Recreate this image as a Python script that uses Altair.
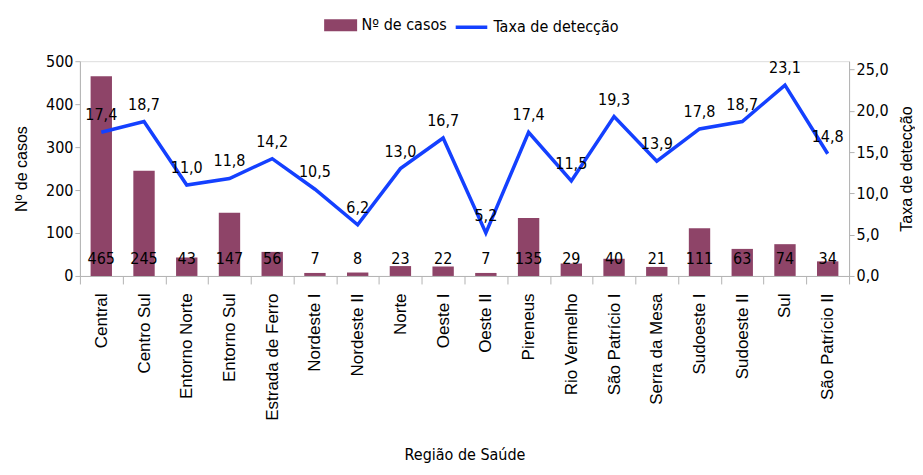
import altair as alt
import pandas as pd

regioes = ["Central", "Centro Sul", "Entorno Norte", "Entorno Sul", "Estrada de Ferro",
           "Nordeste I", "Nordeste II", "Norte", "Oeste I", "Oeste II", "Pireneus",
           "Rio Vermelho", "São Patrício I", "Serra da Mesa", "Sudoeste I", "Sudoeste II",
           "Sul", "São Patrício II"]
casos = [465, 245, 43, 147, 56, 7, 8, 23, 22, 7, 135, 29, 40, 21, 111, 63, 74, 34]
taxa = [17.4, 18.7, 11.0, 11.8, 14.2, 10.5, 6.2, 13.0, 16.7, 5.2, 17.4, 11.5, 19.3,
        13.9, 17.8, 18.7, 23.1, 14.8]
ticks_casos = [0, 100, 200, 300, 400, 500]
ticks_taxa = [0, 5, 10, 15, 20, 25]
serie_barra = "Nº de casos"
serie_linha = "Taxa de detecção"

df = pd.DataFrame({"regiao": regioes, "casos": casos, "taxa": taxa,
                   "s_barra": [serie_barra] * len(regioes),
                   "s_linha": [serie_linha] * len(regioes)})

NUM_FONT = "Liberation Sans Narrow, DejaVu Sans Condensed, Arial Narrow, sans-serif"
WIDE_FONT = "Liberation Sans, Arial, sans-serif"
BAR = "#8e4468"
BLUE = "#1440ff"
AX = "#b3b3b3"

x = alt.X("regiao:N", sort=regioes, title="Região de Saúde",
          scale=alt.Scale(paddingInner=0, paddingOuter=0),
          axis=alt.Axis(labelAngle=-90, labelAlign="right", labelBaseline="middle",
                        labelFont=WIDE_FONT, labelFontSize=17, labelColor="black",
                        labelPadding=9, tickBand="extent", tickSize=8,
                        tickColor=AX, domainColor=AX, titleFont=NUM_FONT,
                        titleFontSize=16, titleFontWeight="normal", titleColor="black",
                        titlePadding=26))

base = alt.Chart(df)

bars = base.mark_bar(width={"band": 0.5}).encode(
    x=x,
    y=alt.Y("casos:Q", title="Nº de casos",
            scale=alt.Scale(domain=[0, 500]),
            axis=alt.Axis(values=ticks_casos, format="d", grid=False,
                          labelFont=NUM_FONT, labelFontSize=16, labelColor="black",
                          tickColor=AX, domainColor=AX, tickSize=5,
                          titleFont=WIDE_FONT, titleFontSize=16,
                          titleFontWeight="normal", titleColor="black",
                          titlePadding=16)),
    fill=alt.Fill("s_barra:N",
                  scale=alt.Scale(domain=[serie_barra], range=[BAR]),
                  legend=alt.Legend(title=None, orient="none", legendX=244, legendY=-53,
                                    symbolType="M-1,-0.37H1V0.37H-1Z",
                                    symbolSize=1090, symbolStrokeWidth=0,
                                    labelFont=NUM_FONT, labelFontSize=16,
                                    labelColor="black")),
)

bar_text = base.mark_text(font=NUM_FONT, fontSize=16, color="black",
                          baseline="middle", dy=-17).encode(
    x=alt.X("regiao:N", sort=regioes),
    y=alt.datum(0),
    text=alt.Text("casos:Q", format="d"),
)

line = base.mark_line(strokeWidth=3.5).encode(
    x=alt.X("regiao:N", sort=regioes),
    y=alt.Y("taxa:Q", title="Taxa de detecção",
            scale=alt.Scale(domain=[0, 25]),
            axis=alt.Axis(orient="right", values=ticks_taxa, format=".1f", grid=False,
                          labelFont=NUM_FONT, labelFontSize=16, labelColor="black",
                          tickColor=AX, domainColor=AX, tickSize=5,
                          titleFont=WIDE_FONT, titleFontSize=16, titleAngle=270,
                          titleBaseline="top",
                          titleFontWeight="normal", titleColor="black",
                          titlePadding=10)),
    stroke=alt.Stroke("s_linha:N",
                      scale=alt.Scale(domain=[serie_linha], range=[BLUE]),
                      legend=alt.Legend(title=None, orient="none", legendX=374, legendY=-52,
                                        symbolType="stroke",
                                        symbolSize=1000, symbolStrokeWidth=3.5,
                                        labelFont=NUM_FONT, labelFontSize=16,
                                        labelColor="black")),
)

line_text = base.mark_text(font=NUM_FONT, fontSize=16, color="black",
                           baseline="middle", dy=-17).encode(
    x=alt.X("regiao:N", sort=regioes),
    y=alt.Y("taxa:Q"),
    text=alt.Text("taxa:Q", format=".1f"),
)

chart = alt.layer(
    alt.layer(bars, bar_text),
    alt.layer(line, line_text),
).resolve_scale(y="independent").properties(
    width=770, height=215, padding={"left": 5, "top": 0, "right": 0, "bottom": 0}
).configure_view(stroke=None).configure(
    locale={"number": {"decimal": ",", "thousands": ".", "grouping": [3],
                       "currency": ["R$", ""]}}
)

chart.save("out.html", embed_options={"renderer": "svg", "actions": False})
